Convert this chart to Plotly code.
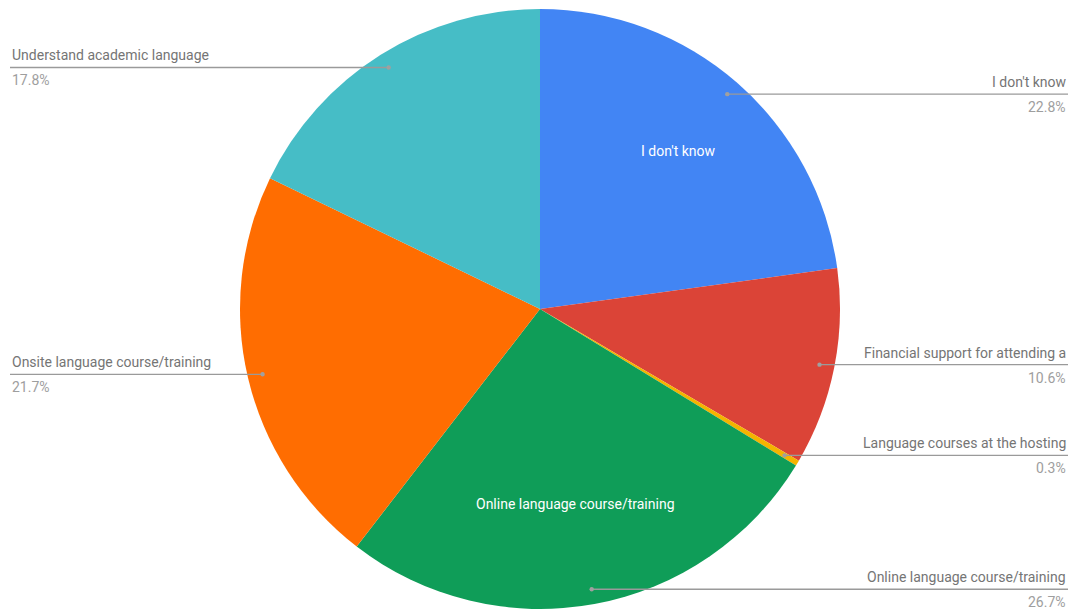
import math
import plotly.graph_objects as go

# Survey answers, clockwise from 12 o'clock
labels = [
    "I don't know",
    "Financial support for attending a",
    "Language courses at the hosting",
    "Online language course/training",
    "Onsite language course/training",
    "Understand academic language",
]
values = [22.8, 10.6, 0.3, 26.7, 21.7, 17.8]
colors = ["#4285F4", "#DB4437", "#F4B400", "#0F9D58", "#FF6D01", "#46BDC6"]
# slices that also carry their name inside the wedge
inside_labels = ["I don't know", "Online language course/training"]

W, H = 1072, 610
CX, CY, R = 540, 309, 300          # pie centre and radius in pixels
LEFT_X, RIGHT_X = 10, 1068         # where the leader lines end

def px(x):
    return x / W

def py(y):
    return 1 - y / H

fig = go.Figure(go.Pie(
    labels=labels,
    values=values,
    sort=False,
    direction="clockwise",
    rotation=0,
    marker=dict(colors=colors, line=dict(width=0)),
    textinfo="none",
    hoverinfo="label+percent",
    showlegend=False,
    domain=dict(x=[(2 * CX - W) / W, 1], y=[py(CY + R), py(CY - R)]),
))

total = sum(values)
shapes, annotations = [], []
cum = 0.0
for lab, val in zip(labels, values):
    mid = (cum + val / 2) / total * 2 * math.pi
    cum += val
    sx, sy = math.sin(mid), -math.cos(mid)
    # leader dot on the slice
    dx, dy = CX + 0.95 * R * sx, CY + 0.95 * R * sy
    right = sx >= 0
    end_x = RIGHT_X if right else LEFT_X
    shapes.append(dict(type="line", xref="paper", yref="paper",
                       x0=px(dx), y0=py(dy), x1=px(end_x), y1=py(dy),
                       line=dict(color="#9a9a9a", width=1.3)))
    shapes.append(dict(type="circle", xref="paper", yref="paper",
                       x0=px(dx - 2.2), x1=px(dx + 2.2),
                       y0=py(dy - 2.2), y1=py(dy + 2.2),
                       fillcolor="#a0a0a0", line=dict(width=0)))
    anchor = "right" if right else "left"
    annotations.append(dict(x=px(end_x), y=py(dy - 2), xref="paper", yref="paper",
                            text=lab, showarrow=False, xanchor=anchor, yanchor="bottom",
                            font=dict(family="Roboto", size=14, color="#757575")))
    annotations.append(dict(x=px(end_x), y=py(dy + 3), xref="paper", yref="paper",
                            text=f"{val:.1f}%",
                            showarrow=False, xanchor=anchor, yanchor="top",
                            font=dict(family="Roboto", size=14, color="#9e9e9e")))
    if lab in inside_labels:
        frac = 0.70 if lab == "I don't know" else 0.66
        annotations.append(dict(x=px(CX + frac * R * sx), y=py(CY + frac * R * sy),
                                xref="paper", yref="paper", text=lab, showarrow=False,
                                xanchor="center", yanchor="middle",
                                font=dict(family="Roboto", size=14, color="#ffffff")))

fig.update_layout(
    width=W, height=H,
    margin=dict(l=0, r=0, t=0, b=0),
    paper_bgcolor="#ffffff",
    plot_bgcolor="#ffffff",
    shapes=shapes,
    annotations=annotations,
)

fig.write_html("out.html")
